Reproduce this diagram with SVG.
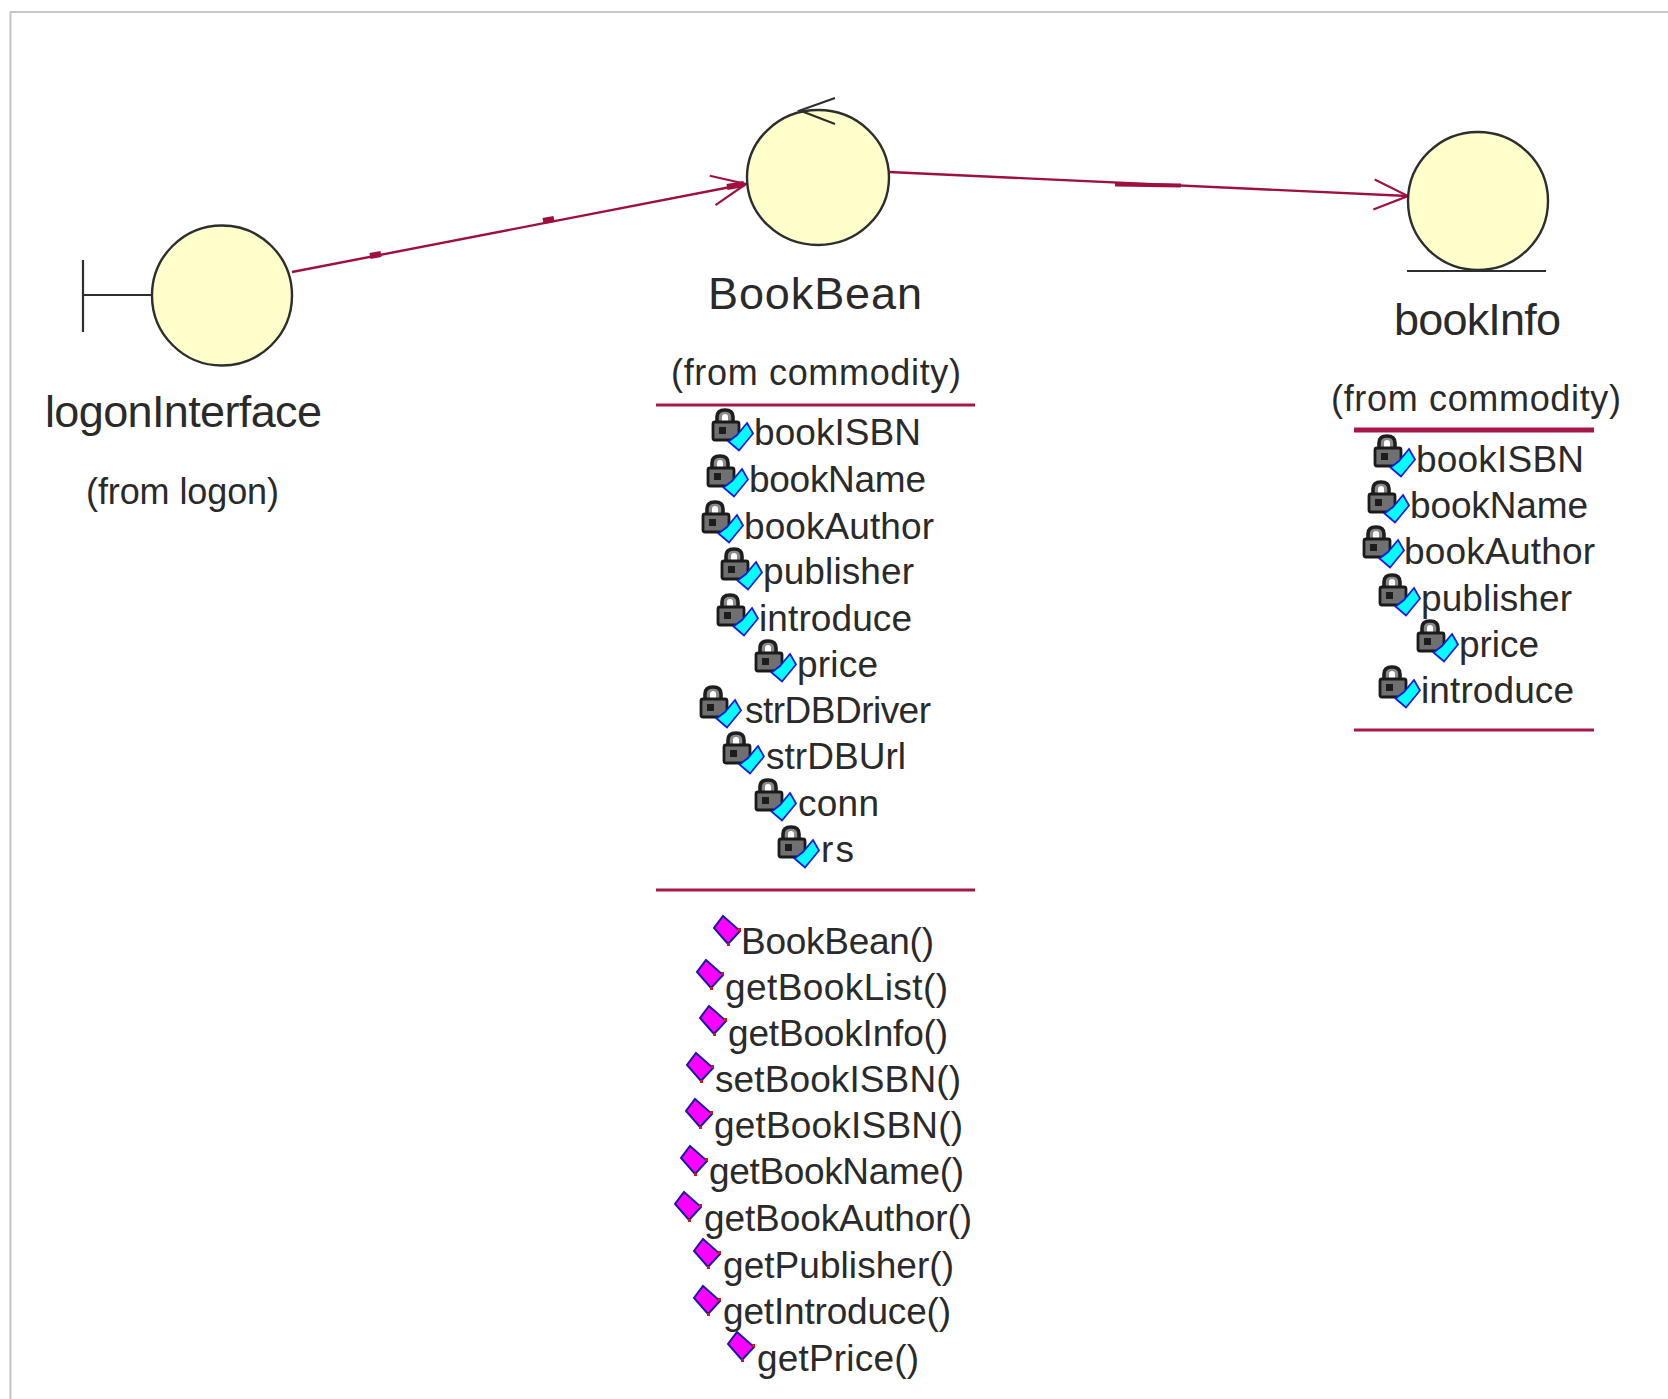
<svg xmlns="http://www.w3.org/2000/svg" xmlns:xlink="http://www.w3.org/1999/xlink" width="1668" height="1399" viewBox="0 0 1668 1399">
<style>
text{font-family:"Liberation Sans",Arial,sans-serif;fill:#2a2a2a}
.n{font-size:45px}
.f{font-size:36px}
.r{font-size:37px}
.body{fill:#ffffcc;stroke:#2e2e2e;stroke-width:2.4}
.ink{fill:none;stroke:#2e2e2e;stroke-width:2.2}
.rule{stroke:#a8174a;stroke-width:3}
.conn{fill:none;stroke:#a0103f;stroke-width:2.4}
.blob{fill:none;stroke:#a0103f;stroke-width:6}
</style>
<defs>
<marker id="open" markerUnits="userSpaceOnUse" markerWidth="44" markerHeight="40" refX="36" refY="20" orient="auto">
<path d="M2,5 L36,20 L2,35" fill="none" stroke="#a0103f" stroke-width="2.2"/>
</marker>
<g id="attrIcon">
<path d="M-38,-23 V-29 Q-38,-36 -30,-36 Q-22,-36 -22,-29 V-23" fill="#8a8a8a" stroke="#1e1e1e" stroke-width="3.6"/>
<path d="M-33,-23 V-29 Q-33,-32 -30,-32 Q-27,-32 -27,-29 V-23" fill="#ffffff"/>
<rect x="-42" y="-24" width="26" height="18" rx="2" fill="#707070" stroke="#1a1a1a" stroke-width="2.8"/>
<rect x="-36" y="-19" width="7" height="7" fill="#1c1c1c"/>
<path d="M-8,-23 L-2,-12.500 L-16,4.500 L-26.500,-4.500 L-18,-11 Z" fill="#00ffff" stroke="#1a1ae0" stroke-width="1.8"/>
</g>
<g id="methodIcon">
<path d="M-20,-35 L-3,-20 L-15,-7 L-29,-23 Z" fill="#ff00ff" stroke="#1a1a9c" stroke-width="2"/>
<rect x="-5" y="-23" width="3" height="3" fill="#d01818"/>
<rect x="-16" y="-8" width="3" height="3" fill="#d01818"/>
</g>
</defs>
<rect width="1668" height="1399" fill="#ffffff"/>
<path id="frame" d="M10.5,1399 V12 H1668" fill="none" stroke="#c6c6c6" stroke-width="2"/>

<g id="connectors">
<path class="conn" d="M292,272 L746,184" marker-end="url(#open)"/>
<path class="blob" d="M370,256 L381,254 M543,221 L554,219 M727,187 L744,184"/>
<path class="conn" d="M889,172 L1408,196" marker-end="url(#open)"/>
<path class="blob" d="M1115,184.500 L1181,185.500" style="stroke-width:4"/>
</g>

<g id="logonInterface">
<path class="ink" d="M83,260 V332 M83,295 H152"/>
<ellipse class="body" cx="222" cy="295.500" rx="70" ry="70"/>
<text class="n" x="45" y="427" textLength="277">logonInterface</text>
<text class="f" x="86" y="504" textLength="193">(from logon)</text>
</g>

<g id="BookBean">
<ellipse class="body" cx="818" cy="177.500" rx="71" ry="67.500"/>
<path class="ink" d="M835,98 L800,110.500 L835,124"/>
<text class="n" x="708" y="309" textLength="214">BookBean</text>
<text class="f" x="671" y="385" textLength="290">(from commodity)</text>
<path class="rule" d="M656,405 H975 M656,890 H975"/>
<g id="BookBean-attributes">
<use href="#attrIcon" x="755" y="446"/><text class="r" x="754" y="445" textLength="167">bookISBN</text>
<use href="#attrIcon" x="750" y="492"/><text class="r" x="749" y="492" textLength="177">bookName</text>
<use href="#attrIcon" x="745" y="538"/><text class="r" x="744" y="539" textLength="190">bookAuthor</text>
<use href="#attrIcon" x="764" y="585"/><text class="r" x="763" y="584" textLength="151">publisher</text>
<use href="#attrIcon" x="760" y="631"/><text class="r" x="759" y="631" textLength="153">introduce</text>
<use href="#attrIcon" x="798" y="677"/><text class="r" x="797" y="677" textLength="81">price</text>
<use href="#attrIcon" x="743" y="723"/><text class="r" x="745" y="723" textLength="186">strDBDriver</text>
<use href="#attrIcon" x="766" y="769"/><text class="r" x="766" y="769" textLength="140">strDBUrl</text>
<use href="#attrIcon" x="798" y="816"/><text class="r" x="798" y="816" textLength="81">conn</text>
<use href="#attrIcon" x="821" y="863"/><text class="r" x="821" y="862" textLength="33">rs</text>
</g>
<g id="BookBean-operations">
<use href="#methodIcon" x="743" y="951"/><text class="r" x="741" y="954" textLength="193">BookBean()</text>
<use href="#methodIcon" x="726" y="995"/><text class="r" x="725" y="1000" textLength="223">getBookList()</text>
<use href="#methodIcon" x="729" y="1041"/><text class="r" x="728" y="1046" textLength="220">getBookInfo()</text>
<use href="#methodIcon" x="716" y="1088"/><text class="r" x="715" y="1092" textLength="246">setBookISBN()</text>
<use href="#methodIcon" x="715" y="1134"/><text class="r" x="714" y="1138" textLength="249">getBookISBN()</text>
<use href="#methodIcon" x="710" y="1181"/><text class="r" x="709" y="1184" textLength="255">getBookName()</text>
<use href="#methodIcon" x="704" y="1227"/><text class="r" x="704" y="1231" textLength="268">getBookAuthor()</text>
<use href="#methodIcon" x="723" y="1274"/><text class="r" x="723" y="1278" textLength="231">getPublisher()</text>
<use href="#methodIcon" x="723" y="1321"/><text class="r" x="723" y="1324" textLength="228">getIntroduce()</text>
<use href="#methodIcon" x="757" y="1367"/><text class="r" x="757" y="1371" textLength="162">getPrice()</text>
</g>
</g>

<g id="bookInfo">
<ellipse class="body" cx="1478" cy="201" rx="70" ry="69"/>
<path class="ink" d="M1407,271 H1546"/>
<text class="n" x="1394" y="335" textLength="167">bookInfo</text>
<text class="f" x="1331" y="411" textLength="290">(from commodity)</text>
<path class="rule" d="M1354,430 H1594" style="stroke-width:5"/>
<path class="rule" d="M1354,730 H1594"/>
<g id="bookInfo-attributes">
<use href="#attrIcon" x="1417" y="472"/><text class="r" x="1416" y="472" textLength="168">bookISBN</text>
<use href="#attrIcon" x="1411" y="518"/><text class="r" x="1410" y="518" textLength="178">bookName</text>
<use href="#attrIcon" x="1406" y="563"/><text class="r" x="1404" y="564" textLength="191">bookAuthor</text>
<use href="#attrIcon" x="1422" y="611"/><text class="r" x="1421" y="611" textLength="151">publisher</text>
<use href="#attrIcon" x="1460" y="657"/><text class="r" x="1459" y="657" textLength="80">price</text>
<use href="#attrIcon" x="1422" y="703"/><text class="r" x="1421" y="703" textLength="153">introduce</text>
</g>
</g>
</svg>
